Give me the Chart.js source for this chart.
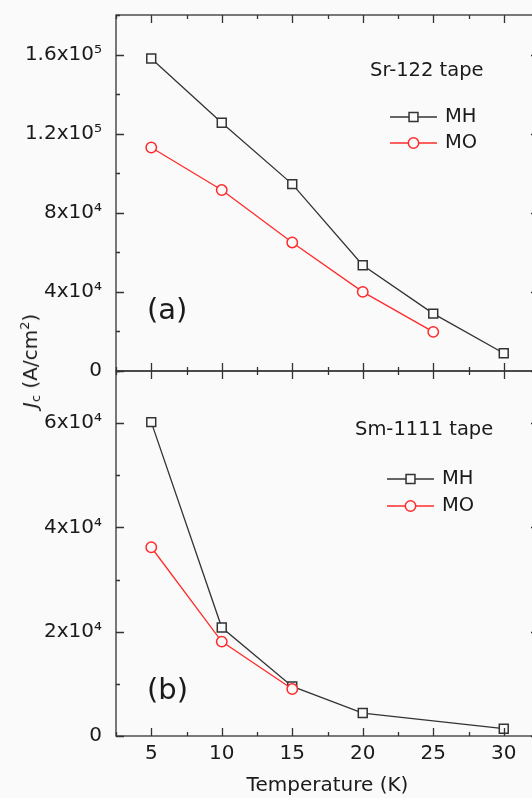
<!DOCTYPE html>
<html>
<head>
<meta charset="utf-8">
<script src="https://cdn.jsdelivr.net/npm/chart.js@4.4.1/dist/chart.umd.min.js"></script>
<style>
    html, body { margin: 0; padding: 0; background: #fafafa; overflow: hidden; }
    #wrap { position: relative; width: 532px; height: 798px; overflow: hidden; }
    canvas { position: absolute; left: 0; }
    #topChart { top: 0; }
    #botChart { top: 362px; }
    #ytitle {
        position: absolute; left: 30px; top: 361px;
        transform: translate(-50%, -50%) rotate(-90deg);
        font: 20px 'DejaVu Sans'; color: #1a1a1a; white-space: nowrap;
    }
    #ytitle sub { font-size: 13px; vertical-align: -3px; }
    #ytitle sup { font-size: 13px; vertical-align: 8px; }
</style>
</head>
<body>
<div id="wrap">
    <canvas id="topChart" width="560" height="380"></canvas>
    <canvas id="botChart" width="560" height="436"></canvas>
    <div id="ytitle"><i>J</i><sub>c</sub> (A/cm<sup>2</sup>)</div>
</div>
<script>
// data
const seriesNames = ['MH', 'MO'];
const tapeNames = ['Sr-122 tape', 'Sm-1111 tape'];
const panelLabels = ['(a)', '(b)'];

const tempTicks = [5, 10, 15, 20, 25, 30];

const topMHTemps = [5, 10, 15, 20, 25, 30];
const topMHJc = [158000, 125500, 94500, 53500, 29000, 9000];
const topMOTemps = [5, 10, 15, 20, 25];
const topMOJc = [113000, 91500, 65000, 40000, 19800];

const botMHTemps = [5, 10, 15, 20, 30];
const botMHJc = [60200, 20800, 9500, 4400, 1400];
const botMOTemps = [5, 10, 15];
const botMOJc = [36200, 18100, 9000];

const topYTickValues = [0, 40000, 80000, 120000, 160000];
const topYTickLabels = ['0', '4x10⁴', '8x10⁴', '1.2x10⁵', '1.6x10⁵'];
const botYTickValues = [0, 20000, 40000, 60000];
const botYTickLabels = ['0', '2x10⁴', '4x10⁴', '6x10⁴'];

const FONT = 'DejaVu Sans';
const INK = '#1a1a1a';
const BG = '#fafafa';

function pairs(xs, ys) {
    return xs.map((x, i) => ({ x: x, y: ys[i] }));
}

function makeDatasets(mhT, mhJ, moT, moJ) {
    return [{
        label: seriesNames[0],
        data: pairs(mhT, mhJ),
        borderColor: '#333',
        borderWidth: 1.3,
        pointStyle: 'rect',
        pointRadius: 6.3,
        pointBorderWidth: 1.5,
        pointBorderColor: '#333',
        pointBackgroundColor: BG,
        tension: 0,
        order: 1
    }, {
        label: seriesNames[1],
        data: pairs(moT, moJ),
        borderColor: '#ff2b2b',
        borderWidth: 1.3,
        pointStyle: 'circle',
        pointRadius: 5.2,
        pointBorderWidth: 1.5,
        pointBorderColor: '#ff2b2b',
        pointBackgroundColor: BG,
        tension: 0,
        order: 0
    }];
}

// frame, inward ticks, panel label and legend box
const framePlugin = {
    id: 'frame',
    afterDraw(chart, args, opts) {
        const { ctx, chartArea: a, scales: { x, y } } = chart;
        ctx.save();
        ctx.strokeStyle = '#333';
        ctx.lineWidth = 1.3;
        ctx.strokeRect(a.left, a.top, a.right - a.left, a.bottom - a.top);

        ctx.beginPath();
        x.ticks.forEach(t => {
            const px = Math.round(x.getPixelForValue(t.value)) + 0.5;
            const len = tempTicks.includes(t.value) ? 8 : 4;
            ctx.moveTo(px, a.bottom); ctx.lineTo(px, a.bottom - len);
            ctx.moveTo(px, a.top); ctx.lineTo(px, a.top + len);
        });
        y.ticks.forEach(t => {
            const py = Math.round(y.getPixelForValue(t.value)) + 0.5;
            const len = opts.yMajor.includes(t.value) ? 8 : 4;
            ctx.moveTo(a.left, py); ctx.lineTo(a.left + len, py);
            ctx.moveTo(a.right, py); ctx.lineTo(a.right - len, py);
        });
        ctx.stroke();

        ctx.fillStyle = INK;
        ctx.textBaseline = 'middle';
        ctx.textAlign = 'left';
        ctx.font = '29px ' + FONT;
        ctx.fillText(opts.panel, opts.panelX, opts.panelY);

        ctx.font = '19.5px ' + FONT;
        ctx.fillText(opts.title, opts.titleX, opts.titleY);

        chart.data.datasets.forEach((ds, i) => {
            const ly = opts.rowY[i];
            ctx.strokeStyle = ds.borderColor;
            ctx.lineWidth = ds.borderWidth;
            ctx.beginPath();
            ctx.moveTo(opts.lineX, ly);
            ctx.lineTo(opts.lineX + 47, ly);
            ctx.stroke();
            ctx.fillStyle = ds.pointBackgroundColor;
            ctx.strokeStyle = ds.pointBorderColor;
            ctx.lineWidth = ds.pointBorderWidth;
            Chart.helpers.drawPoint(ctx, {
                pointStyle: ds.pointStyle,
                radius: ds.pointRadius,
                borderWidth: ds.pointBorderWidth,
                rotation: 0
            }, opts.lineX + 23.5, ly);
            ctx.fillStyle = INK;
            ctx.fillText(ds.label, opts.lineX + 55, ly);
        });
        ctx.restore();
    }
};

function makeChart(id, cfg) {
    const ctx = document.getElementById(id).getContext('2d');
    return new Chart(ctx, {
        type: 'line',
        data: { datasets: cfg.datasets },
        options: {
            responsive: false,
            animation: false,
            devicePixelRatio: 1,
            layout: { padding: { top: cfg.padTop, right: 21, bottom: 0, left: 0 } },
            plugins: {
                legend: { display: false },
                tooltip: { enabled: false },
                frame: cfg.frame
            },
            scales: {
                x: {
                    type: 'linear',
                    min: 2.5,
                    max: 32.5,
                    grid: { display: false },
                    border: { display: false },
                    afterFit: s => {
                        s.height = cfg.xHeight;
                        s.paddingLeft = 0;
                        s.paddingRight = 0;
                    },
                    ticks: {
                        display: cfg.showX,
                        stepSize: 2.5,
                        autoSkip: false,
                        maxRotation: 0,
                        padding: -2,
                        color: INK,
                        font: { family: FONT, size: 20 },
                        callback: v => tempTicks.includes(v) ? String(v) : ''
                    },
                    title: {
                        display: cfg.showX,
                        text: 'Temperature (K)',
                        color: INK,
                        padding: { top: 0, bottom: 0 },
                        font: { family: FONT, size: 20 }
                    }
                },
                y: {
                    min: 0,
                    max: cfg.yMax,
                    grid: { display: false },
                    border: { display: false },
                    afterFit: s => {
                        s.width = 116;
                        s.paddingTop = 0;
                        s.paddingBottom = 0;
                    },
                    ticks: {
                        stepSize: cfg.yStep,
                        padding: 6,
                        color: INK,
                        font: { family: FONT, size: 20 },
                        callback: v => {
                            const i = cfg.yVals.indexOf(v);
                            return i >= 0 ? cfg.yLabels[i] : '';
                        }
                    }
                }
            }
        },
        plugins: [framePlugin]
    });
}

makeChart('topChart', {
    datasets: makeDatasets(topMHTemps, topMHJc, topMOTemps, topMOJc),
    padTop: 15,
    xHeight: 9,
    showX: false,
    yMax: 180000,
    yStep: 20000,
    yVals: topYTickValues,
    yLabels: topYTickLabels,
    frame: {
        yMajor: topYTickValues,
        panel: panelLabels[0], panelX: 147, panelY: 311,
        title: tapeNames[0], titleX: 370, titleY: 71,
        lineX: 390, rowY: [117, 143]
    }
});

makeChart('botChart', {
    datasets: makeDatasets(botMHTemps, botMHJc, botMOTemps, botMOJc),
    padTop: 9,
    xHeight: 62,
    showX: true,
    yMax: 70000,
    yStep: 10000,
    yVals: botYTickValues,
    yLabels: botYTickLabels,
    frame: {
        yMajor: botYTickValues,
        panel: panelLabels[1], panelX: 147, panelY: 691 - 362,
        title: tapeNames[1], titleX: 355, titleY: 430 - 362,
        lineX: 387, rowY: [479 - 362, 506 - 362]
    }
});
</script>
</body>
</html>
